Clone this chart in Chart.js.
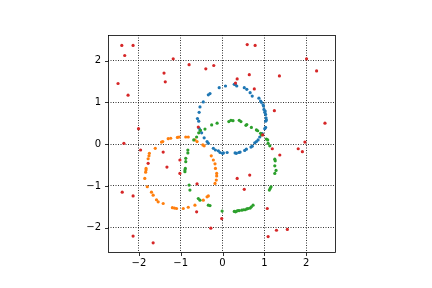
<!DOCTYPE html>
<html>
<head>
    <script src="https://cdn.jsdelivr.net/npm/chart.js"></script>
    <style>body { margin: 0; background: #fff; }</style>
</head>
<body>
<canvas id="grafico" width="432" height="288"></canvas>
<script>
    const xTicks = [-2, -1, 0, 1, 2];
    const yTicks = [-2, -1, 0, 1, 2];

    const bluePts = [
        [-0.08, 1.35], [0.07, 1.39], [0.28, 1.43], [0.31, 1.42], [0.34, 1.39], [0.52, 1.35], [0.58, 1.31],
        [0.66, 1.23], [0.71, 1.15], [0.87, 1.10], [0.91, 1.03], [0.93, 1.00], [0.97, 0.94], [0.98, 0.91],
        [0.99, 0.83], [1.02, 0.79], [1.01, 0.76], [1.03, 0.71], [1.04, 0.63], [1.05, 0.58], [1.03, 0.55],
        [1.03, 0.40], [1.01, 0.37], [0.95, 0.25], [0.89, 0.17], [0.85, 0.10], [0.81, 0.06], [0.77, 0.03],
        [0.71, -0.05], [0.68, -0.07], [0.57, -0.12], [0.53, -0.15], [0.42, -0.19], [0.39, -0.20], [0.33, -0.22],
        [0.30, -0.21], [0.11, -0.20], [0.02, -0.21], [0.00, -0.22], [-0.06, -0.20], [-0.10, -0.16], [-0.17, -0.14],
        [-0.22, -0.10], [-0.34, 0.02], [-0.37, 0.06], [-0.44, 0.15], [-0.50, 0.27], [-0.53, 0.33], [-0.56, 0.38],
        [-0.57, 0.55], [-0.60, 0.61], [-0.56, 0.76], [-0.54, 0.89], [-0.46, 1.01], [-0.34, 1.18], [-0.30, 1.21]
    ];
    const orangePts = [
        [-1.61, -0.10], [-1.46, 0.05], [-1.43, 0.06], [-1.30, 0.13], [-1.24, 0.14], [-1.08, 0.16], [-1.04, 0.17],
        [-0.88, 0.17], [-0.82, 0.17], [-0.66, 0.10], [-0.61, 0.06], [-0.47, -0.02], [-0.44, -0.04], [-0.27, -0.28],
        [-0.22, -0.38], [-0.18, -0.47], [-0.17, -0.58], [-0.14, -0.70], [-0.14, -0.76], [-0.15, -0.86], [-0.18, -0.94],
        [-0.34, -1.24], [-0.37, -1.26], [-0.46, -1.34], [-0.66, -1.46], [-0.82, -1.51], [-0.94, -1.54], [-1.10, -1.54],
        [-1.15, -1.53], [-1.20, -1.52], [-1.42, -1.42], [-1.54, -1.38], [-1.58, -1.33], [-1.66, -1.22], [-1.70, -1.15],
        [-1.80, -1.02], [-1.86, -0.82], [-1.84, -0.67], [-1.83, -0.62], [-1.83, -0.58], [-1.78, -0.35], [-1.76, -0.28],
        [-1.75, -0.22]
    ];
    const greenPts = [
        [-0.69, 0.10], [-0.62, 0.17], [-0.57, 0.27], [-0.53, 0.33], [-0.42, 0.36], [-0.26, 0.46], [-0.13, 0.50],
        [0.15, 0.54], [0.20, 0.57], [0.25, 0.56], [0.40, 0.57], [0.44, 0.54], [0.56, 0.45], [0.58, 0.47],
        [0.69, 0.40], [0.81, 0.34], [0.84, 0.32], [0.91, 0.26], [0.93, 0.22], [1.05, 0.12], [1.08, 0.10],
        [1.09, 0.02], [1.13, -0.04], [1.25, -0.36], [1.26, -0.40], [1.25, -0.52], [1.28, -0.63], [1.25, -0.70],
        [1.16, -1.02], [1.14, -1.06], [1.12, -1.10], [0.73, -1.46], [0.69, -1.50], [0.66, -1.53], [0.61, -1.54],
        [0.58, -1.55], [0.54, -1.57], [0.50, -1.57], [0.46, -1.58], [0.40, -1.59], [0.37, -1.59], [0.34, -1.60],
        [0.31, -1.62], [0.28, -1.61], [-0.01, -1.60], [-0.30, -1.47], [-0.34, -1.46], [-0.54, -1.34], [-0.58, -1.30],
        [-0.78, -1.10], [-0.80, -0.98], [-0.89, -0.58], [-0.90, -0.66], [-0.90, -0.62], [-0.88, -0.42], [-0.88, -0.34],
        [-0.83, -0.21], [-0.83, -0.14]
    ];
    const redPts = [
        [-2.41, 2.36], [-2.14, 2.36], [-2.34, 2.12], [-1.18, 2.04], [-0.80, 1.90], [-0.40, 1.80], [-0.21, 1.88],
        [-1.40, 1.70], [-1.37, 1.49], [-2.50, 1.45], [-2.26, 1.17], [-2.01, 0.37], [-0.58, 0.41], [-2.36, 0.02],
        [-1.96, -0.14], [0.59, 2.38], [0.78, 2.36], [2.01, 2.04], [2.25, 1.75], [1.36, 1.63], [0.64, 1.66],
        [0.35, 1.56], [0.31, 1.46], [0.76, 1.32], [1.24, 0.80], [2.45, 0.50], [0.96, 0.22], [1.97, 0.05],
        [1.19, -0.11], [1.81, -0.11], [1.91, -0.18], [1.37, -0.26], [0.35, -0.82], [0.65, -0.74], [0.52, -1.08],
        [-0.02, -1.78], [1.07, -1.54], [1.29, -2.06], [1.55, -2.04], [1.09, -2.21], [-1.42, -0.19], [-1.78, -0.46],
        [-1.33, -0.55], [-1.02, -0.38], [-1.02, -0.70], [-0.61, -0.95], [-0.62, -1.62], [-0.28, -2.01], [-2.40, -1.15],
        [-2.14, -1.24], [-2.14, -2.20], [-1.66, -2.36]
    ];

    const toXY = pts => pts.map(p => ({ x: p[0], y: p[1] }));
    const menos = v => v < 0 ? '\u2212' + (-v) : String(v);

    // moldura e marcas dos eixos, como no matplotlib
    const moldura = {
        id: 'moldura',
        afterDraw(chart) {
            const { ctx, chartArea: a, scales } = chart;
            ctx.save();
            ctx.strokeStyle = '#000';
            ctx.lineWidth = 0.8;
            ctx.strokeRect(a.left + 0.5, a.top + 0.5, a.right - a.left, a.bottom - a.top);
            ctx.beginPath();
            xTicks.forEach(v => {
                const px = Math.round(scales.x.getPixelForValue(v)) + 0.5;
                ctx.moveTo(px, a.bottom + 0.5);
                ctx.lineTo(px, a.bottom + 4);
            });
            yTicks.forEach(v => {
                const py = Math.round(scales.y.getPixelForValue(v)) + 0.5;
                ctx.moveTo(a.left + 0.5, py);
                ctx.lineTo(a.left - 3, py);
            });
            ctx.stroke();
            ctx.restore();
        }
    };

    const fonte = { family: 'DejaVu Sans', size: 10 };
    const grade = { color: '#000', lineWidth: 0.8, drawTicks: false };

    const ctx = document.getElementById('grafico').getContext('2d');
    new Chart(ctx, {
        type: 'scatter',
        data: {
            datasets: [
                { data: toXY(redPts), backgroundColor: '#d62728', order: 0 },
                { data: toXY(greenPts), backgroundColor: '#2ca02c', order: 1 },
                { data: toXY(orangePts), backgroundColor: '#ff7f0e', order: 2 },
                { data: toXY(bluePts), backgroundColor: '#1f77b4', order: 3 }
            ]
        },
        options: {
            responsive: false,
            animation: false,
            elements: { point: { radius: 1.6, borderWidth: 0, hoverRadius: 1.6 } },
            layout: { padding: { left: 78, right: 97, top: 35, bottom: 16 } },
            plugins: { legend: { display: false }, tooltip: { enabled: false } },
            scales: {
                x: {
                    type: 'linear',
                    min: -2.74,
                    max: 2.69,
                    afterFit: s => { s.height = 20; },
                    afterBuildTicks: s => { s.ticks = xTicks.map(v => ({ value: v })); },
                    ticks: { callback: menos, font: fonte, color: '#000', padding: 5, maxRotation: 0, autoSkip: false },
                    grid: grade,
                    border: { display: false, dash: [1, 1.5] }
                },
                y: {
                    type: 'linear',
                    min: -2.58,
                    max: 2.61,
                    afterFit: s => { s.width = 30; },
                    afterBuildTicks: s => { s.ticks = yTicks.map(v => ({ value: v })); },
                    ticks: { callback: menos, font: fonte, color: '#000', padding: 7, autoSkip: false },
                    grid: grade,
                    border: { display: false, dash: [1, 1.5] }
                }
            }
        },
        plugins: [moldura]
    });
</script>
</body>
</html>
